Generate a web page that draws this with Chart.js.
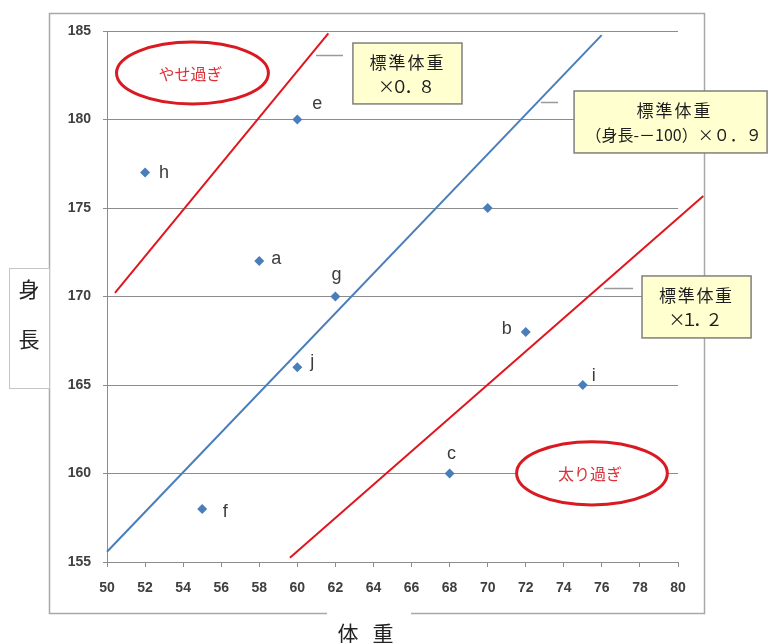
<!DOCTYPE html>
<html lang="ja">
<head>
<meta charset="utf-8">
<title>身長と体重</title>
<script src="https://cdn.jsdelivr.net/npm/chart.js@4/dist/chart.umd.min.js"></script>
<style>
  html, body { margin: 0; padding: 0; background: #ffffff; }
  canvas { display: block; }
</style>
</head>
<body>
<canvas id="chart" width="769" height="643"></canvas>
<script>
// ---- data ----
const names   = ['a', 'b', 'c', 'e', 'f', 'g', 'h', 'i', 'j', ''];
const weights = [58, 72, 68, 60, 55, 62, 52, 75, 60, 70];
const heights = [172, 168, 160, 180, 158, 170, 177, 165, 166, 175];

// reference lines (weight, height end points)
const slimWeights     = [50.42, 61.63];   // 標準体重 ×0.8
const slimHeights     = [170.2, 184.87];
const standardWeights = [50, 75.99];      // (身長-100) ×0.9
const standardHeights = [155.58, 184.77];
const heavyWeights    = [59.61, 81.33];   // 標準体重 ×1.2
const heavyHeights    = [155.24, 175.68];

const xTickValues = [50, 52, 54, 56, 58, 60, 62, 64, 66, 68, 70, 72, 74, 76, 78, 80];
const yTickValues = [155, 160, 165, 170, 175, 180, 185];

const calloutTexts = [
  ['標準体重', '×０．８'],
  ['標準体重', '（身長-－100）×０．９'],
  ['標準体重', '×１．２']
];
const zoneTexts = ['やせ過ぎ', '太り過ぎ'];
const yTitle = ['身', '長'];
const xTitle = '体 重';

// ---- styling / placement of decorations ----
const BLUE = '#4A7EBB';
const RED = '#E0161E';
const GRID = '#8C8C8C';
const CJK = '"Noto Sans CJK JP", "Noto Sans", sans-serif';

// offsets of the point letters from their marker (px)
const letterOffsets = {
  a: [17, 3], b: [-19, 2], c: [2, -15], e: [20, -11], f: [23, 8],
  g: [1, -17], h: [19, 5], i: [11, -4], j: [15, 0]
};

// callout boxes in data units: box corners and leader line;
// per text line: [font size, set width or null for natural width]
const callouts = [
  { box: [62.92, 184.32, 68.65, 180.88], lead: [60.98, 62.40, 183.64], lines: [[17, 74], [17, 57]], dx: -1 },
  { box: [74.54, 181.61, 84.68, 178.11], lead: [72.80, 73.70, 180.99], lines: [[17, 74], [16, null]], dx: 3 },
  { box: [78.11, 171.16, 83.84, 167.66], lead: [76.12, 77.64, 170.48], lines: [[17, 73], [17, 54]], dx: -1 }
];
// zone ellipses in data units: centre and radii
const zones = [
  { c: [54.49, 182.63], r: [3.99, 1.75] },
  { c: [75.48, 160.01], r: [3.96, 1.79] }
];

const pairs = (xs, ys) => xs.map((x, i) => ({ x: x, y: ys[i] }));

// draw a line of text centred at cx, optionally spread or squeezed to a width
function fitText(ctx, text, cx, cy, width) {
  ctx.letterSpacing = '0px';
  if (width == null) {
    ctx.textAlign = 'center';
    ctx.fillText(text, cx, cy);
    return;
  }
  const n = Array.from(text).length;
  const w = ctx.measureText(text).width;
  const s = (width - w) / Math.max(1, n - 1);
  ctx.letterSpacing = s.toFixed(2) + 'px';
  ctx.textAlign = 'left';
  ctx.fillText(text, cx - width / 2, cy);
  ctx.letterSpacing = '0px';
}

const decor = {
  id: 'decor',
  beforeDraw(chart) {
    const ctx = chart.ctx;
    ctx.save();
    ctx.fillStyle = '#ffffff';
    ctx.fillRect(0, 0, chart.width, chart.height);
    // outer chart frame
    ctx.strokeStyle = '#A8A8A8';
    ctx.lineWidth = 1.5;
    ctx.strokeRect(49.5, 13.5, 655, 600);
    ctx.restore();
  },
  afterDatasetsDraw(chart) {
    const ctx = chart.ctx;
    const xs = chart.scales.x, ys = chart.scales.y;
    const px = v => xs.getPixelForValue(v);
    const py = v => ys.getPixelForValue(v);
    ctx.save();

    // zone ellipses
    zones.forEach((z, i) => {
      const cx = px(z.c[0]), cy = py(z.c[1]);
      const rx = px(z.c[0] + z.r[0]) - cx, ry = cy - py(z.c[1] + z.r[1]);
      ctx.beginPath();
      ctx.ellipse(cx, cy, rx, ry, 0, 0, Math.PI * 2);
      ctx.fillStyle = '#ffffff';
      ctx.fill();
      ctx.lineWidth = 3;
      ctx.strokeStyle = '#D91A22';
      ctx.stroke();
      ctx.fillStyle = '#DA3038';
      ctx.font = '16px ' + CJK;
      ctx.textAlign = 'center';
      ctx.textBaseline = 'middle';
      ctx.fillText(zoneTexts[i], cx - 2, cy + 0.5);
    });

    // callouts
    callouts.forEach((c, i) => {
      const x0 = px(c.box[0]), y0 = py(c.box[1]), x1 = px(c.box[2]), y1 = py(c.box[3]);
      const ly = Math.round(py(c.lead[2])) + 0.5;
      ctx.beginPath();
      ctx.moveTo(px(c.lead[0]), ly);
      ctx.lineTo(px(c.lead[1]), ly);
      ctx.strokeStyle = '#9A9A9A';
      ctx.lineWidth = 1.5;
      ctx.stroke();
      ctx.fillStyle = '#FFFFD0';
      ctx.fillRect(x0, y0, x1 - x0, y1 - y0);
      ctx.strokeStyle = '#7F7F7F';
      ctx.lineWidth = 1.5;
      ctx.strokeRect(x0, y0, x1 - x0, y1 - y0);
      ctx.fillStyle = '#1E1E1E';
      ctx.textBaseline = 'middle';
      const cx = (x0 + x1) / 2 + c.dx;
      c.lines.forEach((ln, k) => {
        ctx.font = ln[0] + 'px ' + CJK;
        fitText(ctx, calloutTexts[i][k], cx, y0 + (k === 0 ? 19.5 : 44), ln[1]);
      });
    });

    // point letters
    const meta = chart.getDatasetMeta(3);
    ctx.fillStyle = '#3C3C3C';
    ctx.font = '18px "Liberation Sans", Arial, sans-serif';
    ctx.textAlign = 'center';
    ctx.textBaseline = 'alphabetic';
    meta.data.forEach((pt, i) => {
      const n = names[i];
      if (!n) return;
      const off = letterOffsets[n];
      ctx.fillText(n, pt.x + off[0], pt.y + off[1]);
    });
    ctx.restore();
  },
  afterDraw(chart) {
    const ctx = chart.ctx;
    ctx.save();
    // vertical axis title in its own box
    ctx.fillStyle = '#ffffff';
    ctx.fillRect(9.5, 268.5, 40, 120);
    ctx.strokeStyle = '#C4C4C4';
    ctx.lineWidth = 1;
    ctx.strokeRect(9.5, 268.5, 40, 120);
    ctx.fillStyle = '#222222';
    ctx.font = '21px ' + CJK;
    ctx.textAlign = 'center';
    ctx.textBaseline = 'middle';
    ctx.fillText(yTitle[0], 29, 289);
    ctx.fillText(yTitle[1], 29, 339);
    // horizontal axis title over the frame
    ctx.fillStyle = '#ffffff';
    ctx.fillRect(327, 606, 84, 37);
    ctx.fillStyle = '#222222';
    ctx.textAlign = 'left';
    ctx.letterSpacing = '4.6px';
    ctx.fillText(xTitle, 337.5, 633);
    ctx.restore();
  }
};

const tickFont = { family: '"Liberation Sans", Arial, sans-serif', size: 14, weight: 'bold' };

new Chart(document.getElementById('chart'), {
  type: 'scatter',
  data: {
    datasets: [
      { label: '標準体重×0.8', type: 'line', data: pairs(slimWeights, slimHeights),
        borderColor: RED, borderWidth: 2, pointRadius: 0, fill: false, tension: 0, clip: false },
      { label: '標準体重', type: 'line', data: pairs(standardWeights, standardHeights),
        borderColor: BLUE, borderWidth: 2, pointRadius: 0, fill: false, tension: 0, clip: false },
      { label: '標準体重×1.2', type: 'line', data: pairs(heavyWeights, heavyHeights),
        borderColor: RED, borderWidth: 2, pointRadius: 0, fill: false, tension: 0, clip: false },
      { label: '身長・体重', data: pairs(weights, heights),
        pointStyle: 'rectRot', pointRadius: 5, pointHoverRadius: 5,
        backgroundColor: BLUE, borderColor: BLUE, borderWidth: 0 }
    ]
  },
  options: {
    responsive: false,
    animation: false,
    devicePixelRatio: 1,
    layout: { padding: { left: 0, top: 31, right: 91, bottom: 0 } },
    plugins: { legend: { display: false }, tooltip: { enabled: false } },
    scales: {
      x: {
        type: 'linear', min: 50, max: 80,
        afterBuildTicks: s => { s.ticks = xTickValues.map(v => ({ value: v })); },
        afterFit: s => { s.height = 81; },
        ticks: { font: tickFont, color: '#404040', padding: 13, maxRotation: 0, autoSkip: false },
        grid: { drawOnChartArea: false, drawTicks: true, tickLength: 5, color: GRID, lineWidth: 1 },
        border: { display: true, color: GRID, width: 1 }
      },
      y: {
        type: 'linear', min: 155, max: 185,
        afterBuildTicks: s => { s.ticks = yTickValues.map(v => ({ value: v })); },
        afterFit: s => { s.width = 107; },
        ticks: { font: tickFont, color: '#404040', padding: 12, autoSkip: false },
        grid: { color: GRID, lineWidth: 1, tickLength: 4, drawTicks: true },
        border: { display: true, color: GRID, width: 1 }
      }
    }
  },
  plugins: [decor]
});
</script>
</body>
</html>
